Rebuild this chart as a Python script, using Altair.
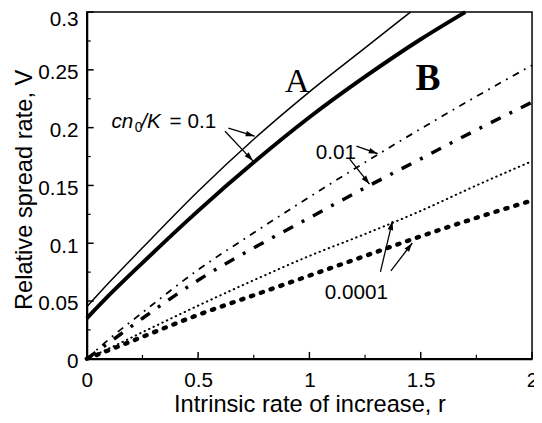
import math
import altair as alt
import pandas as pd

# ---------------- data ----------------
r_a01 = [0, 0.1, 0.25, 0.5, 0.75, 1.0, 1.25, 1.454]
v_a01 = [0.045, 0.066, 0.096, 0.145, 0.190, 0.231, 0.269, 0.300]

r_b01 = [0, 0.1, 0.25, 0.5, 0.75, 1.0, 1.25, 1.5, 1.70]
v_b01 = [0.035, 0.055, 0.083, 0.128, 0.170, 0.209, 0.2441, 0.2765, 0.300]

r_full = [0, 0.1, 0.25, 0.5, 0.75, 1.0, 1.25, 1.5, 1.75, 2.0]
v_a001 = [0.0, 0.017, 0.040, 0.077, 0.109, 0.140, 0.170, 0.199, 0.227, 0.254]
v_b001 = [0.0, 0.014, 0.035, 0.068, 0.096, 0.122, 0.148, 0.173, 0.198, 0.222]
v_a00001 = [0.0, 0.009, 0.023, 0.046, 0.068, 0.089, 0.108, 0.128, 0.150, 0.171]
v_b00001 = [0.0, 0.0075, 0.019, 0.038, 0.055, 0.072, 0.089, 0.106, 0.122, 0.137]

y_labels = [0, 0.05, 0.1, 0.15, 0.2, 0.25, 0.3]
y_minor = [0.025, 0.075, 0.125, 0.175, 0.225, 0.275]
x_labels = [0, 0.5, 1, 1.5, 2]
x_minor = [0.25, 0.75, 1.25, 1.75]

# annotation texts and anchors (data units)
letter_text = ["A", "B"]
letter_r = [0.945, 1.533]
letter_v = [0.2309, 0.2326]

num_text = ["0.01", "0.0001"]
num_r = [1.119, 1.211]
num_v = [0.173, 0.052]

# arrows: start (r0, v0) -> tip (r1, v1)
arr_r0 = [0.636, 0.621, 1.211, 1.181, 1.319, 1.366]
arr_v0 = [0.1996, 0.1969, 0.184, 0.1727, 0.0752, 0.0761]
arr_r1 = [0.754, 0.746, 1.307, 1.270, 1.373, 1.462]
arr_v1 = [0.1926, 0.1713, 0.1775, 0.1511, 0.1192, 0.1002]

# ---------------- layout ----------------
W, H = 452, 352
XMAX, YMAX = 2.0, 0.3
FONT = "Liberation Sans"

xscale = alt.Scale(domain=[0, XMAX], nice=False, zero=False)
yscale = alt.Scale(domain=[0, YMAX], nice=False, zero=False)

xaxis = alt.Axis(
    values=x_labels, format="~g", title="Intrinsic rate of increase, r",
    grid=False, ticks=False, tickSize=0, domainColor="black", domainWidth=2,
    labelFont=FONT, labelFontSize=21, labelColor="black", labelPadding=11,
    labelFlush=False, labelOverlap=False,
    titleFont=FONT, titleFontSize=24, titleFontWeight="normal", titleColor="black",
    titleY=53, titleBaseline="alphabetic",
)
yaxis = alt.Axis(
    values=y_labels, format="~g", title="Relative spread rate, V",
    grid=False, ticks=False, tickSize=0, domainColor="black", domainWidth=2,
    labelFont=FONT, labelFontSize=21, labelColor="black", labelPadding=9,
    labelFlush=False, labelOverlap=False,
    labelOffset={"condition": {"test": "datum.value >= 0.29", "value": 8}, "value": 3},
    titleFont=FONT, titleFontSize=24, titleFontWeight="normal", titleColor="black",
    titleAngle=270, titleX=-56, titleY=180, titleBaseline="alphabetic", titleAlign="center",
)


def X(f):
    return alt.X(f, type="quantitative", scale=xscale, axis=xaxis)


def Y(f):
    return alt.Y(f, type="quantitative", scale=yscale, axis=yaxis)


def line(rs, vs, **style):
    df = pd.DataFrame({"r": rs, "v": vs})
    return alt.Chart(df).mark_line(color="black", interpolate="monotone", **style).encode(
        x=X("r"), y=Y("v")
    )


layers = []
layers.append(line(r_a01, v_a01, strokeWidth=1.5))
layers.append(line(r_b01, v_b01, strokeWidth=4))
layers.append(line(r_full, v_a001, strokeWidth=1.8, strokeDash=[7, 6, 1.8, 6]))
layers.append(line(r_full, v_b001, strokeWidth=3.5, strokeDash=[11, 10, 3, 10]))
layers.append(line(r_full, v_a00001, strokeWidth=2, strokeCap="round", strokeDash=[0.5, 4.5]))
layers.append(line(r_full, v_b00001, strokeWidth=4.5, strokeCap="round", strokeDash=[2.2, 8.3]))

# inward ticks
ymaj = pd.DataFrame({"t": y_labels})
ymin = pd.DataFrame({"t": y_minor})
xmaj = pd.DataFrame({"t": x_labels})
xmin = pd.DataFrame({"t": x_minor})
layers.append(alt.Chart(ymaj).mark_rule(color="black", strokeWidth=1.5).encode(
    y=Y("t"), x=alt.value(0), x2=alt.value(7)))
layers.append(alt.Chart(ymin).mark_rule(color="black", strokeWidth=1.2).encode(
    y=Y("t"), x=alt.value(0), x2=alt.value(4)))
layers.append(alt.Chart(xmaj).mark_rule(color="black", strokeWidth=1.5).encode(
    x=X("t"), y=alt.value(H), y2=alt.value(H - 7)))
layers.append(alt.Chart(xmin).mark_rule(color="black", strokeWidth=1.2).encode(
    x=X("t"), y=alt.value(H), y2=alt.value(H - 4)))

# arrows
sx, sy = W / XMAX, H / YMAX
angs = []
for a, b, c, d in zip(arr_r0, arr_v0, arr_r1, arr_v1):
    dx = (c - a) * sx
    dy = -(d - b) * sy
    angs.append(math.degrees(math.atan2(dx, -dy)) % 360)
arr = pd.DataFrame({"r0": arr_r0, "v0": arr_v0, "r1": arr_r1, "v1": arr_v1, "ang": angs})
layers.append(alt.Chart(arr).mark_rule(color="black", strokeWidth=1.3).encode(
    x=X("r0"), y=Y("v0"), x2="r1", y2="v1"))
layers.append(alt.Chart(arr).mark_point(
    shape="M0,0L-0.5,1.6L0.5,1.6Z", filled=True, color="black", size=130, opacity=1,
    strokeWidth=0).encode(
    x=X("r1"), y=Y("v1"), angle=alt.Angle("ang:Q", scale=None)))

# cn0/K = 0.1 label pieces
lab_it = pd.DataFrame({"r": [0.111, 0.245], "v": [0.1994, 0.1994], "t": ["cn", "/K"]})
lab_sub = pd.DataFrame({"r": [0.215], "v": [0.1966], "t": ["0"]})
lab_eq = pd.DataFrame({"r": [0.372], "v": [0.1994], "t": ["= 0.1"]})
layers.append(alt.Chart(lab_it).mark_text(
    font=FONT, fontSize=21, fontStyle="italic", align="left", baseline="alphabetic",
    color="black").encode(x=X("r"), y=Y("v"), text="t:N"))
layers.append(alt.Chart(lab_sub).mark_text(
    font=FONT, fontSize=14, align="left", baseline="alphabetic",
    color="black").encode(x=X("r"), y=Y("v"), text="t:N"))
layers.append(alt.Chart(lab_eq).mark_text(
    font=FONT, fontSize=21, align="left", baseline="alphabetic",
    color="black").encode(x=X("r"), y=Y("v"), text="t:N"))

nums = pd.DataFrame({"r": num_r, "v": num_v, "t": num_text})
layers.append(alt.Chart(nums).mark_text(
    font=FONT, fontSize=21, align="center", baseline="alphabetic",
    color="black").encode(x=X("r"), y=Y("v"), text="t:N"))

letA = pd.DataFrame({"r": letter_r[:1], "v": letter_v[:1], "t": letter_text[:1]})
letB = pd.DataFrame({"r": letter_r[1:], "v": letter_v[1:], "t": letter_text[1:]})
layers.append(alt.Chart(letA).mark_text(
    font="Liberation Serif", fontSize=35, align="center", baseline="alphabetic",
    color="black").encode(x=X("r"), y=Y("v"), text="t:N"))
layers.append(alt.Chart(letB).mark_text(
    font="Liberation Serif", fontSize=38, fontWeight="bold", align="center",
    baseline="alphabetic", color="black").encode(x=X("r"), y=Y("v"), text="t:N"))

chart = alt.layer(*layers).properties(
    width=W, height=H,
    autosize=alt.AutoSizeParams(type="none"),
    padding={"left": 80, "top": 1, "right": 2, "bottom": 60},
    background="white",
).configure_view(stroke="black", strokeWidth=1.5)

chart.save("out.html", embed_options={"renderer": "svg", "actions": False})
